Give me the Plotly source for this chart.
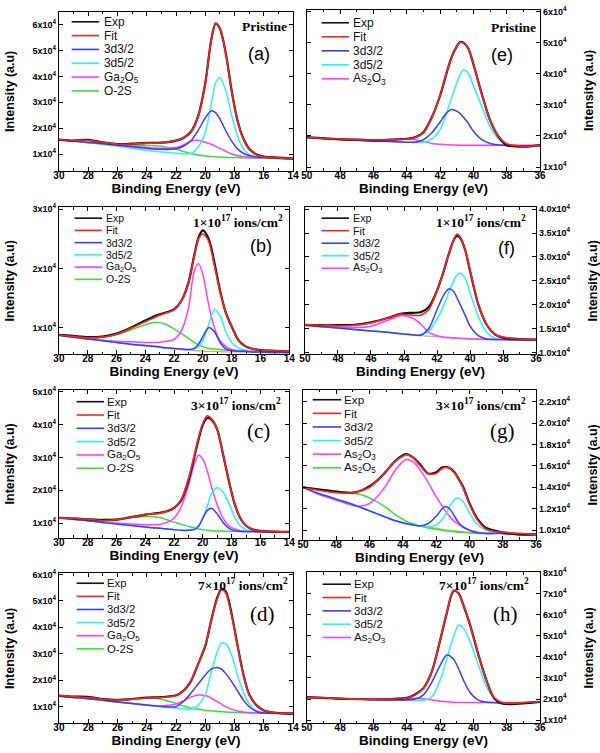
import plotly.graph_objects as go

W, H = 600, 753

# ---------------- data (intensity in units of 1e4 counts) ----------------
# Panel (a) Ga 3d, pristine
a_x = [30, 29, 28, 27, 26, 25, 24, 23, 22, 21.5, 21, 20.5, 20, 19.6, 19.3, 19, 18.6, 18.2, 17.8, 17.4, 17, 16.5, 16, 15, 14]
a_exp = [1.56, 1.52, 1.55, 1.45, 1.38, 1.40, 1.43, 1.44, 1.52, 1.62, 1.85, 2.45, 3.75, 5.40, 6.05, 5.85, 4.90, 3.45, 2.30, 1.60, 1.20, 0.98, 0.90, 0.86, 0.82]
a_fit = [1.56, 1.52, 1.53, 1.44, 1.38, 1.39, 1.42, 1.43, 1.52, 1.62, 1.84, 2.43, 3.72, 5.38, 6.06, 5.86, 4.88, 3.43, 2.28, 1.58, 1.19, 0.97, 0.89, 0.85, 0.82]
a_3d32 = [1.55, 1.50, 1.45, 1.40, 1.34, 1.28, 1.22, 1.18, 1.20, 1.30, 1.50, 1.90, 2.40, 2.67, 2.60, 2.35, 1.90, 1.50, 1.20, 1.03, 0.94, 0.88, 0.86, 0.84, 0.82]
a_3d52 = [1.55, 1.50, 1.44, 1.37, 1.30, 1.22, 1.14, 1.08, 1.03, 1.00, 1.02, 1.25, 1.85, 2.90, 3.75, 3.95, 3.45, 2.50, 1.70, 1.20, 0.98, 0.88, 0.85, 0.83, 0.82]
a_ga2o5 = [1.55, 1.50, 1.45, 1.40, 1.35, 1.30, 1.26, 1.22, 1.25, 1.35, 1.50, 1.53, 1.45, 1.38, 1.30, 1.22, 1.10, 1.00, 0.93, 0.90, 0.88, 0.86, 0.85, 0.83, 0.82]
a_o2s = [1.55, 1.50, 1.45, 1.40, 1.36, 1.34, 1.34, 1.30, 1.18, 1.10, 1.02, 0.96, 0.92, 0.90, 0.89, 0.88, 0.87, 0.86, 0.86, 0.85, 0.85, 0.84, 0.83, 0.83, 0.82]

# Panel (b) Ga 3d, 1e17
b_x = [30, 29, 28, 27, 26, 25, 24, 23.2, 22.5, 22, 21.5, 21, 20.6, 20.3, 20, 19.6, 19.2, 18.8, 18.4, 18, 17.5, 17, 16.5, 16, 15, 14]
b_exp = [0.88, 0.86, 0.84, 0.85, 0.90, 1.00, 1.12, 1.21, 1.26, 1.31, 1.45, 1.76, 2.22, 2.52, 2.64, 2.50, 2.10, 1.62, 1.25, 1.02, 0.78, 0.68, 0.64, 0.62, 0.61, 0.60]
b_fit = [0.88, 0.85, 0.83, 0.84, 0.89, 0.99, 1.10, 1.19, 1.25, 1.30, 1.45, 1.75, 2.20, 2.50, 2.58, 2.46, 2.05, 1.60, 1.25, 1.02, 0.78, 0.68, 0.64, 0.62, 0.61, 0.60]
b_3d32 = [0.87, 0.84, 0.81, 0.78, 0.75, 0.72, 0.70, 0.68, 0.66, 0.65, 0.64, 0.63, 0.65, 0.72, 0.85, 1.00, 0.93, 0.75, 0.64, 0.61, 0.60, 0.60, 0.59, 0.59, 0.58, 0.58]
b_3d52 = [0.87, 0.84, 0.81, 0.78, 0.75, 0.72, 0.70, 0.68, 0.66, 0.65, 0.64, 0.63, 0.64, 0.68, 0.78, 1.05, 1.30, 1.20, 0.93, 0.75, 0.65, 0.62, 0.61, 0.60, 0.59, 0.58]
b_ga2o5 = [0.87, 0.84, 0.81, 0.79, 0.77, 0.76, 0.75, 0.75, 0.77, 0.80, 0.94, 1.33, 1.95, 2.08, 1.90, 1.39, 1.00, 0.78, 0.68, 0.63, 0.61, 0.60, 0.60, 0.59, 0.59, 0.58]
b_o2s = [0.87, 0.85, 0.83, 0.84, 0.88, 0.96, 1.05, 1.09, 1.05, 0.98, 0.90, 0.82, 0.75, 0.71, 0.68, 0.65, 0.64, 0.63, 0.62, 0.62, 0.61, 0.61, 0.60, 0.60, 0.59, 0.58]
b_bg = [0.87, 0.84, 0.81, 0.78, 0.75, 0.72, 0.69, 0.67, 0.65, 0.64, 0.63, 0.62, 0.615, 0.61, 0.605, 0.60, 0.60, 0.595, 0.59, 0.59, 0.59, 0.585, 0.585, 0.58, 0.58, 0.58]

# Panel (c) Ga 3d, 3e17
c_x = [30, 29, 28, 27, 26, 25, 24, 23, 22.5, 22, 21.5, 21, 20.6, 20.3, 20, 19.7, 19.4, 19, 18.6, 18.2, 17.8, 17.4, 17, 16.5, 16, 15, 14]
c_exp = [1.16, 1.14, 1.12, 1.09, 1.10, 1.18, 1.26, 1.31, 1.36, 1.46, 1.70, 2.30, 3.00, 3.55, 4.00, 4.20, 4.15, 3.85, 3.10, 2.30, 1.60, 1.15, 0.92, 0.80, 0.76, 0.74, 0.73]
c_fit = [1.16, 1.14, 1.12, 1.08, 1.10, 1.18, 1.26, 1.30, 1.35, 1.46, 1.72, 2.35, 3.05, 3.60, 4.05, 4.27, 4.18, 3.85, 3.10, 2.30, 1.60, 1.15, 0.92, 0.80, 0.76, 0.74, 0.73]
c_3d32 = [1.16, 1.12, 1.07, 1.02, 0.97, 0.93, 0.88, 0.84, 0.82, 0.80, 0.78, 0.78, 0.80, 0.90, 1.15, 1.38, 1.45, 1.28, 1.02, 0.85, 0.77, 0.75, 0.74, 0.74, 0.73, 0.73, 0.73]
c_3d52 = [1.16, 1.12, 1.07, 1.02, 0.97, 0.93, 0.88, 0.84, 0.82, 0.80, 0.78, 0.78, 0.82, 0.92, 1.15, 1.50, 1.90, 2.08, 1.95, 1.60, 1.20, 0.92, 0.80, 0.75, 0.74, 0.73, 0.73]
c_ga2o5 = [1.16, 1.12, 1.08, 1.04, 1.00, 0.97, 0.95, 0.96, 1.02, 1.15, 1.50, 2.15, 2.80, 3.07, 2.95, 2.60, 2.10, 1.55, 1.15, 0.92, 0.82, 0.77, 0.75, 0.74, 0.74, 0.73, 0.73]
c_o2s = [1.16, 1.14, 1.12, 1.12, 1.13, 1.16, 1.20, 1.17, 1.10, 1.03, 0.96, 0.90, 0.85, 0.82, 0.80, 0.78, 0.77, 0.76, 0.76, 0.75, 0.75, 0.74, 0.74, 0.74, 0.73, 0.73, 0.73]

# Panel (d) Ga 3d, 7e17
d_x = [30, 29, 28, 27, 26, 25, 24, 23, 22, 21.5, 21, 20.5, 20, 19.6, 19.2, 18.9, 18.6, 18.2, 17.8, 17.4, 17, 16.5, 16, 15, 14]
d_exp = [1.42, 1.38, 1.37, 1.29, 1.25, 1.29, 1.34, 1.36, 1.43, 1.60, 1.95, 2.60, 3.30, 4.25, 5.10, 5.45, 5.35, 4.50, 3.32, 2.22, 1.46, 1.05, 0.86, 0.76, 0.74]
d_fit = [1.42, 1.38, 1.35, 1.28, 1.25, 1.28, 1.33, 1.35, 1.42, 1.60, 1.95, 2.60, 3.30, 4.25, 5.05, 5.42, 5.30, 4.45, 3.30, 2.20, 1.45, 1.05, 0.86, 0.76, 0.74]
d_3d32 = [1.40, 1.35, 1.30, 1.24, 1.18, 1.12, 1.06, 1.01, 1.00, 1.20, 1.50, 1.85, 2.20, 2.42, 2.48, 2.42, 2.25, 1.95, 1.60, 1.25, 1.00, 0.82, 0.76, 0.75, 0.74]
d_3d52 = [1.40, 1.35, 1.30, 1.24, 1.18, 1.12, 1.06, 1.00, 0.95, 0.92, 0.90, 1.05, 1.45, 2.30, 3.05, 3.40, 3.38, 2.95, 2.20, 1.55, 1.10, 0.85, 0.77, 0.75, 0.74]
d_ga2o5 = [1.40, 1.35, 1.30, 1.25, 1.18, 1.12, 1.06, 1.03, 1.10, 1.22, 1.36, 1.44, 1.42, 1.33, 1.20, 1.10, 1.00, 0.90, 0.84, 0.80, 0.78, 0.76, 0.75, 0.75, 0.74]
d_o2s = [1.40, 1.37, 1.33, 1.30, 1.28, 1.30, 1.34, 1.28, 1.12, 1.03, 0.95, 0.90, 0.86, 0.84, 0.82, 0.81, 0.80, 0.79, 0.78, 0.77, 0.76, 0.76, 0.75, 0.75, 0.74]

# Panel (e) As 3d, pristine
e_x = [50, 49, 48, 47, 46, 45, 44, 43.5, 43, 42.5, 42, 41.6, 41.3, 41, 40.8, 40.6, 40.3, 40, 39.5, 39, 38.5, 38, 37, 36]
e_exp = [1.96, 1.92, 1.89, 1.88, 1.86, 1.88, 1.91, 1.96, 2.12, 2.60, 3.30, 4.05, 4.55, 4.88, 5.02, 5.00, 4.80, 4.30, 3.35, 2.50, 1.98, 1.70, 1.66, 1.70]
e_fit = [1.95, 1.92, 1.90, 1.88, 1.87, 1.88, 1.90, 1.95, 2.10, 2.60, 3.30, 4.05, 4.55, 4.88, 5.01, 5.00, 4.80, 4.30, 3.35, 2.50, 2.00, 1.75, 1.67, 1.70]
e_3d32 = [1.95, 1.92, 1.89, 1.86, 1.84, 1.82, 1.80, 1.80, 1.88, 2.10, 2.45, 2.75, 2.85, 2.80, 2.72, 2.60, 2.40, 2.15, 1.88, 1.76, 1.71, 1.69, 1.68, 1.70]
e_3d52 = [1.95, 1.92, 1.89, 1.86, 1.84, 1.82, 1.80, 1.79, 1.80, 1.90, 2.20, 2.75, 3.25, 3.70, 3.98, 4.12, 4.00, 3.60, 2.95, 2.30, 1.90, 1.72, 1.67, 1.70]
e_as2o3 = [1.95, 1.92, 1.90, 1.88, 1.87, 1.88, 1.90, 1.88, 1.82, 1.76, 1.73, 1.72, 1.71, 1.71, 1.70, 1.70, 1.70, 1.70, 1.70, 1.70, 1.70, 1.70, 1.70, 1.70]

# Panel (f) As 3d, 1e17
f_x = [50, 49, 48, 47, 46, 45, 44.2, 43.5, 43, 42.5, 42, 41.6, 41.3, 41, 40.8, 40.6, 40.3, 40, 39.5, 39, 38.5, 38, 37, 36]
f_exp = [1.58, 1.57, 1.57, 1.58, 1.63, 1.72, 1.81, 1.83, 1.84, 1.95, 2.30, 2.70, 3.05, 3.35, 3.44, 3.40, 3.15, 2.70, 2.00, 1.58, 1.38, 1.31, 1.28, 1.27]
f_fit = [1.58, 1.57, 1.56, 1.57, 1.62, 1.72, 1.80, 1.78, 1.78, 1.90, 2.30, 2.70, 3.05, 3.35, 3.48, 3.42, 3.15, 2.72, 2.00, 1.58, 1.38, 1.32, 1.28, 1.27]
f_3d32 = [1.57, 1.54, 1.51, 1.48, 1.45, 1.42, 1.39, 1.37, 1.36, 1.50, 1.90, 2.20, 2.33, 2.28, 2.15, 2.00, 1.78, 1.55, 1.35, 1.28, 1.27, 1.27, 1.26, 1.26]
f_3d52 = [1.57, 1.54, 1.51, 1.48, 1.45, 1.42, 1.39, 1.37, 1.37, 1.45, 1.70, 1.98, 2.25, 2.50, 2.62, 2.66, 2.55, 2.25, 1.75, 1.42, 1.30, 1.27, 1.26, 1.26]
f_as2o3 = [1.57, 1.55, 1.53, 1.52, 1.55, 1.67, 1.77, 1.72, 1.60, 1.42, 1.35, 1.32, 1.31, 1.30, 1.30, 1.29, 1.29, 1.28, 1.28, 1.27, 1.27, 1.27, 1.26, 1.26]
f_bg = [1.57, 1.54, 1.51, 1.48, 1.45, 1.42, 1.39, 1.37, 1.35, 1.34, 1.33, 1.32, 1.31, 1.31, 1.30, 1.30, 1.29, 1.29, 1.28, 1.28, 1.27, 1.27, 1.26, 1.26]

# Panel (g) As 3d, 3e17
g_x = [50, 49, 48, 47, 46.5, 46, 45.5, 45, 44.5, 44, 43.8, 43.4, 43, 42.5, 42, 41.7, 41.5, 41.2, 40.9, 40.7, 40.4, 40, 39.5, 39, 38, 37, 36]
g_exp = [1.40, 1.38, 1.36, 1.35, 1.37, 1.41, 1.47, 1.55, 1.64, 1.70, 1.71, 1.68, 1.62, 1.53, 1.54, 1.58, 1.59, 1.58, 1.54, 1.49, 1.41, 1.25, 1.10, 1.02, 0.98, 0.96, 0.96]
g_fit = [1.40, 1.37, 1.35, 1.35, 1.37, 1.40, 1.47, 1.55, 1.64, 1.69, 1.705, 1.68, 1.61, 1.53, 1.53, 1.57, 1.585, 1.58, 1.535, 1.49, 1.40, 1.24, 1.09, 1.01, 0.98, 0.97, 0.96]
g_3d32 = [1.40, 1.34, 1.29, 1.24, 1.21, 1.18, 1.15, 1.12, 1.09, 1.07, 1.06, 1.05, 1.04, 1.06, 1.13, 1.19, 1.22, 1.20, 1.13, 1.08, 1.03, 1.00, 0.975, 0.97, 0.97, 0.96, 0.96]
g_3d52 = [1.40, 1.34, 1.29, 1.24, 1.21, 1.18, 1.15, 1.12, 1.09, 1.07, 1.06, 1.05, 1.04, 1.035, 1.05, 1.09, 1.13, 1.22, 1.29, 1.30, 1.27, 1.16, 1.05, 1.00, 0.97, 0.96, 0.96]
g_as2o3 = [1.40, 1.33, 1.28, 1.23, 1.225, 1.25, 1.32, 1.42, 1.55, 1.64, 1.66, 1.64, 1.57, 1.45, 1.31, 1.24, 1.19, 1.13, 1.08, 1.06, 1.03, 1.00, 0.98, 0.97, 0.97, 0.96, 0.96]
g_as2o5 = [1.40, 1.38, 1.36, 1.345, 1.33, 1.30, 1.26, 1.21, 1.15, 1.10, 1.08, 1.06, 1.04, 1.02, 1.01, 1.00, 0.995, 0.99, 0.985, 0.98, 0.98, 0.975, 0.97, 0.97, 0.97, 0.96, 0.96]
g_bg = [1.40, 1.34, 1.29, 1.24, 1.21, 1.18, 1.15, 1.12, 1.09, 1.07, 1.06, 1.05, 1.04, 1.03, 1.02, 1.01, 1.005, 1.00, 0.995, 0.99, 0.985, 0.98, 0.975, 0.97, 0.97, 0.96, 0.96]

# Panel (h) As 3d, 7e17
h_x = [50, 49, 48, 47, 46, 45, 44, 43.5, 43, 42.5, 42, 41.6, 41.2, 40.9, 40.6, 40.2, 39.7, 39.2, 38.75, 38.25, 37, 36]
h_exp = [2.09, 2.06, 2.02, 2.00, 1.98, 2.00, 2.06, 2.22, 2.52, 3.30, 4.78, 6.08, 7.12, 7.02, 6.44, 5.50, 4.09, 2.84, 2.03, 1.78, 1.80, 1.87]
h_fit = [2.08, 2.06, 2.03, 2.00, 1.99, 2.00, 2.05, 2.20, 2.50, 3.30, 4.80, 6.10, 7.14, 7.00, 6.44, 5.50, 4.09, 2.84, 2.06, 1.83, 1.83, 1.87]
h_3d32 = [2.08, 2.05, 2.02, 2.00, 1.98, 1.96, 1.96, 2.00, 2.20, 2.80, 3.60, 4.09, 3.90, 3.45, 2.90, 2.30, 1.95, 1.85, 1.83, 1.82, 1.83, 1.87]
h_3d52 = [2.08, 2.05, 2.02, 2.00, 1.98, 1.96, 1.95, 1.94, 1.94, 2.10, 2.90, 3.90, 4.95, 5.50, 5.35, 4.72, 3.60, 2.55, 2.05, 1.85, 1.83, 1.87]
h_as2o3 = [2.08, 2.05, 2.02, 2.00, 1.99, 2.00, 2.02, 2.04, 2.02, 1.96, 1.90, 1.87, 1.85, 1.84, 1.84, 1.84, 1.84, 1.84, 1.84, 1.84, 1.84, 1.86]

UNIT = 1e4

# ---------------- styles ----------------
C_EXP = "#111111"
C_FIT = "#ff2020"
C_BLUE = "#3b3bff"
C_CYAN = "#2ef0f0"
C_MAG = "#ff3cff"
C_GREEN = "#3ddc3d"
C_BG_OLIVE = "#c2b46a"
C_BG_ORANGE = "#ffa040"

SANS = "Liberation Sans, Arial, sans-serif"
SERIF = "Liberation Serif, Times New Roman, serif"

GA2O5 = "Ga<sub>2</sub>O<sub>5</sub>"
AS2O3 = "As<sub>2</sub>O<sub>3</sub>"
AS2O5 = "As<sub>2</sub>O<sub>5</sub>"


def sup(v, dec):
    s = f"{v:.{dec}f}" if dec else f"{int(round(v))}"
    return f"{s}x10<sup>4</sup>"


panels = [
    dict(k="a", x=a_x, xr=[30, 14], px=(54, 293), py=(5, 166), yr=[0.35, 6.5], yt=[1, 2, 3, 4, 5, 6], dec=0, side="left",
         series=[("O-2S", a_o2s, C_GREEN), (GA2O5, a_ga2o5, C_MAG), ("3d5/2", a_3d52, C_CYAN), ("3d3/2", a_3d32, C_BLUE)],
         exp=a_exp, fit=a_fit, bg=None,
         leg=(67, 95, 98, 15, 14.0), top="Pristine", topxy=(264, 20), lab="(a)", labxy=(258, 48), labserif=False),
    dict(k="b", x=b_x, xr=[30, 14], px=(54, 289), py=(203, 352), yr=[0.55, 3.03], yt=[1, 2, 3], dec=0, side="left",
         series=[("O-2S", b_o2s, C_GREEN), (GA2O5, b_ga2o5, C_MAG), ("3d5/2", b_3d52, C_CYAN), ("3d3/2", b_3d32, C_BLUE)],
         exp=b_exp, fit=b_fit, bg=(b_bg, C_BG_ORANGE),
         leg=(70, 98, 100, 214, 12.4), top="1×10<sup>17</sup> ions/cm<sup>2</sup>", topxy=(237, 217), lab="(b)", labxy=(260, 242), labserif=False),
    dict(k="c", x=c_x, xr=[30, 14], px=(54, 289), py=(388, 538), yr=[0.55, 5.06], yt=[1, 2, 3, 4, 5], dec=0, side="left",
         series=[("O-2S", c_o2s, C_GREEN), (GA2O5, c_ga2o5, C_MAG), ("3d5/2", c_3d52, C_CYAN), ("3d3/2", c_3d32, C_BLUE)],
         exp=c_exp, fit=c_fit, bg=None,
         leg=(72, 100, 101, 400, 13.5), top="3×10<sup>17</sup> ions/cm<sup>2</sup>", topxy=(235, 403), lab="(c)", labxy=(258, 430), labserif=True),
    dict(k="d", x=d_x, xr=[30, 14], px=(54, 293), py=(574, 726), yr=[0.37, 6.04], yt=[1, 2, 3, 4, 5, 6], dec=0, side="left",
         series=[("O-2S", d_o2s, C_GREEN), (GA2O5, d_ga2o5, C_MAG), ("3d5/2", d_3d52, C_CYAN), ("3d3/2", d_3d32, C_BLUE)],
         exp=d_exp, fit=d_fit, bg=None,
         leg=(72, 100, 101, 584, 13.3), top="7×10<sup>17</sup> ions/cm<sup>2</sup>", topxy=(242, 585), lab="(d)", labxy=(262, 615), labserif=True),
    dict(k="e", x=e_x, xr=[50, 36], px=(307, 545), py=(3, 166), yr=[0.88, 6.05], yt=[1, 2, 3, 4, 5, 6], dec=0, side="right",
         series=[(AS2O3, e_as2o3, C_MAG), ("3d5/2", e_3d52, C_CYAN), ("3d3/2", e_3d32, C_BLUE)],
         exp=e_exp, fit=e_fit, bg=None,
         leg=(322, 350, 352, 16, 14.2), top="Pristine", topxy=(518, 21), lab="(e)", labxy=(506, 49), labserif=False),
    dict(k="f", x=f_x, xr=[50, 36], px=(305, 541), py=(203, 352), yr=[0.96, 4.04], yt=[1.0, 1.5, 2.0, 2.5, 3.0, 3.5, 4.0], dec=1, side="right",
         series=[(AS2O3, f_as2o3, C_MAG), ("3d5/2", f_3d52, C_CYAN), ("3d3/2", f_3d32, C_BLUE)],
         exp=f_exp, fit=f_fit, bg=(f_bg, C_BG_OLIVE),
         leg=(322, 350, 352, 214, 12.7), top="1×10<sup>17</sup> ions/cm<sup>2</sup>", topxy=(485, 217), lab="(f)", labxy=(511, 244), labserif=False),
    dict(k="g", x=g_x, xr=[50, 36], px=(303, 541), py=(388, 540), yr=[0.91, 2.31], yt=[1.0, 1.2, 1.4, 1.6, 1.8, 2.0, 2.2], dec=1, side="right",
         series=[(AS2O5, g_as2o5, C_GREEN), (AS2O3, g_as2o3, C_MAG), ("3d5/2", g_3d52, C_CYAN), ("3d3/2", g_3d32, C_BLUE)],
         exp=g_exp, fit=g_fit, bg=(g_bg, C_BG_OLIVE),
         leg=(313, 342, 343, 398, 13.8), top="3×10<sup>17</sup> ions/cm<sup>2</sup>", topxy=(485, 403), lab="(g)", labxy=(507, 430), labserif=True),
    dict(k="h", x=h_x, xr=[50, 36], px=(307, 545), py=(573, 726), yr=[0.85, 8.0], yt=[1, 2, 3, 4, 5, 6, 7, 8], dec=0, side="right",
         series=[(AS2O3, h_as2o3, C_MAG), ("3d5/2", h_3d52, C_CYAN), ("3d3/2", h_3d32, C_BLUE)],
         exp=h_exp, fit=h_fit, bg=None,
         leg=(323, 352, 353, 585, 13.5), top="7×10<sup>17</sup> ions/cm<sup>2</sup>", topxy=(488, 585), lab="(h)", labxy=(510, 615), labserif=True),
]

fig = go.Figure()
shapes = []
annotations = []
layout_axes = {}


def fx(px):
    return px / W


def fy(py):
    return 1 - py / H


for i, p in enumerate(panels):
    n = i + 1
    xa = "x" if n == 1 else f"x{n}"
    ya = "y" if n == 1 else f"y{n}"
    xkey = "xaxis" if n == 1 else f"xaxis{n}"
    ykey = "yaxis" if n == 1 else f"yaxis{n}"

    def add(vals, color, width, name):
        fig.add_trace(go.Scatter(
            x=p["x"], y=[v * UNIT for v in vals], mode="lines", name=name,
            line=dict(color=color, width=width, shape="spline", smoothing=0.8),
            xaxis=xa, yaxis=ya, showlegend=False, hoverinfo="x+y+name"))

    if p["bg"] is not None:
        add(p["bg"][0], p["bg"][1], 1.3, "Background")
    for name, vals, color in p["series"]:
        add(vals, color, 1.5, name)
    add(p["exp"], C_EXP, 2.2, "Exp")
    add(p["fit"], C_FIT, 1.6, "Fit")

    x0, x1 = p["px"]
    t0, t1 = p["py"]
    xt = list(range(int(min(p["xr"])), int(max(p["xr"])) + 1, 2))
    layout_axes[xkey] = dict(
        domain=[fx(x0), fx(x1)], range=p["xr"], anchor=ya,
        tickvals=xt, ticktext=[str(v) for v in xt],
        ticks="inside", ticklen=4, tickwidth=1, tickcolor="black",
        minor=dict(dtick=1, ticks="inside", ticklen=2.5, tickcolor="black"),
        showline=True, linecolor="black", linewidth=1, mirror="ticks",
        showgrid=False, zeroline=False, ticklabelstandoff=-5,
        tickfont=dict(family=SANS, size=10, color="black", weight="bold"),
        title=dict(text="Binding Energy (eV)", standoff=0,
                   font=dict(family=SANS, size=13.5, color="black", weight="bold")),
    )
    yt = p["yt"]
    layout_axes[ykey] = dict(
        domain=[fy(t1), fy(t0)], range=[p["yr"][0] * UNIT, p["yr"][1] * UNIT], anchor=xa,
        side=p["side"],
        tickvals=[v * UNIT for v in yt], ticktext=[sup(v, p["dec"]) for v in yt],
        ticks="inside", ticklen=4, tickwidth=1, tickcolor="black",
        showline=True, linecolor="black", linewidth=1, mirror="ticks",
        showgrid=False, zeroline=False,
        tickfont=dict(family=SANS, size=9, color="black", weight="bold"),
        title=dict(text="Intensity (a.u)", standoff=15 if p["side"] == "left" else 18,
                   font=dict(family=SANS, size=12.5, color="black", weight="bold")),
    )

    # legend (drawn as line samples + labels inside the plot area)
    lx0, lx1, tx, ly0, dy = p["leg"]
    lfs = min(12, round(dy * 0.85, 1))
    entries = [("Exp", C_EXP), ("Fit", C_FIT), ("3d3/2", C_BLUE), ("3d5/2", C_CYAN)]
    for name, vals, color in reversed(p["series"][:-2]):
        entries.append((name, color))
    for j, (name, color) in enumerate(entries):
        yy = ly0 + j * dy
        shapes.append(dict(type="line", xref="paper", yref="paper",
                           x0=fx(lx0), x1=fx(lx1), y0=fy(yy), y1=fy(yy),
                           line=dict(color=color, width=1.6)))
        annotations.append(dict(text=name, xref="paper", yref="paper", x=fx(tx), y=fy(yy),
                                xanchor="left", yanchor="middle", showarrow=False,
                                font=dict(family=SANS, size=lfs, color="#111111")))

    annotations.append(dict(text=f"<b>{p['top']}</b>", xref="paper", yref="paper",
                            x=fx(p["topxy"][0]), y=fy(p["topxy"][1]), xanchor="center", yanchor="middle",
                            showarrow=False, font=dict(family=SERIF, size=13.5, color="black")))
    annotations.append(dict(text=p["lab"], xref="paper", yref="paper",
                            x=fx(p["labxy"][0]), y=fy(p["labxy"][1]), xanchor="center", yanchor="middle",
                            showarrow=False,
                            font=dict(family=SERIF if p["labserif"] else SANS,
                                      size=21 if p["labserif"] else 18, color="black")))

fig.update_layout(
    width=W, height=H,
    margin=dict(l=0, r=0, t=0, b=0),
    paper_bgcolor="white", plot_bgcolor="white",
    showlegend=False,
    shapes=shapes, annotations=annotations,
    **layout_axes,
)

fig.write_html("out.html", config={"displayModeBar": False},
               post_script="document.body.style.margin='0';document.body.style.overflow='hidden';")
